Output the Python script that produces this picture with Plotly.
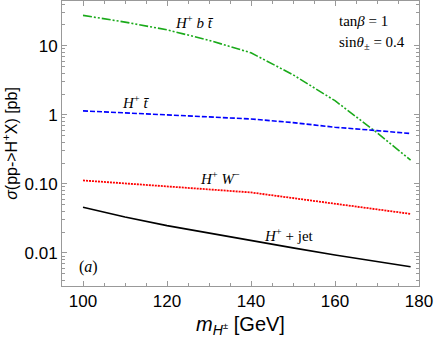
import plotly.graph_objects as go

# masas del Higgs cargado (GeV)
masas = [100, 110, 120, 130, 140, 150, 160, 170, 178]

# secciones eficaces (pb)
sigma_hbt = [27.5, 22.0, 17.0, 12.0, 7.9, 3.8, 1.6, 0.55, 0.22]
sigma_ht = [1.14, 1.07, 0.99, 0.93, 0.87, 0.77, 0.66, 0.59, 0.535]
sigma_hw = [0.112, 0.102, 0.092, 0.083, 0.075, 0.062, 0.052, 0.043, 0.0367]
sigma_hjet = [0.0458, 0.0330, 0.0248, 0.0192, 0.0151, 0.0118, 0.0093, 0.0074, 0.0063]

ytick_vals = [0.01, 0.1, 1, 10]
ytick_text = ['0.01', '0.10', '1', '10']

fig = go.Figure()

fig.add_trace(go.Scatter(x=masas, y=sigma_hbt, mode='lines',
                         line=dict(color='#1aaa1a', width=1.6, dash='9px,2px,2px,2px,2px,2px')))
fig.add_trace(go.Scatter(x=masas, y=sigma_ht, mode='lines',
                         line=dict(color='#0000ff', width=1.6, dash='5px,2px')))
fig.add_trace(go.Scatter(x=masas, y=sigma_hw, mode='lines',
                         line=dict(color='#ff0000', width=1.8, dash='2px,1px')))
fig.add_trace(go.Scatter(x=masas, y=sigma_hjet, mode='lines',
                         line=dict(color='black', width=1.6)))

serif = dict(family='Liberation Serif', size=15, color='black')

# etiquetas de las curvas
fig.add_annotation(x=126.5, y=1.35, xref='x', yref='y', text='<i>H</i><sup>+</sup> <i>b</i> <i>t̄</i>',
                   showarrow=False, font=serif)
fig.add_annotation(x=112.4, y=0.19, xref='x', yref='y', text='<i>H</i><sup>+</sup> <i>t̄</i>',
                   showarrow=False, font=serif)
fig.add_annotation(x=132.5, y=-0.91, xref='x', yref='y', text='<i>H</i><sup>+</sup> <i>W</i><sup>−</sup>',
                   showarrow=False, font=serif)
fig.add_annotation(x=149, y=-1.74, xref='x', yref='y', text='<i>H</i><sup>+</sup> + jet',
                   showarrow=False, font=serif)
fig.add_annotation(x=101.4, y=-2.21, xref='x', yref='y', text='(<i>a</i>)',
                   showarrow=False, font=dict(family='Liberation Serif', size=16, color='black'))
fig.add_annotation(x=0.77, y=1.36, xref='paper', yref='y', xanchor='left', text='tan<i>β</i> = 1',
                   showarrow=False, font=serif)
fig.add_annotation(x=0.77, y=1.04, xref='paper', yref='y', xanchor='left', text='sin<i>θ</i><sub>±</sub> = 0.4',
                   showarrow=False, font=serif)

fig.update_layout(
    width=436, height=338,
    margin=dict(l=62, r=17, t=1, b=52),
    plot_bgcolor='white', paper_bgcolor='white',
    showlegend=False,
    font=dict(family='Liberation Sans', size=17, color='black'),
)

fig.update_xaxes(
    range=[95, 180], showgrid=False, zeroline=False, automargin=False,
    showline=True, linecolor='#999999', mirror='ticks', linewidth=1,
    ticks='inside', ticklen=5, tickcolor='#999999', tickvals=[100, 120, 140, 160, 180],
    minor=dict(ticks='inside', ticklen=3, tickcolor='#999999', dtick=5),
    title=dict(text='<i>m</i><sub><i>H</i><sup>±</sup></sub> [GeV]', standoff=6),
)

fig.update_yaxes(
    type='log', range=[-2.48, 1.648], showgrid=False, zeroline=False, automargin=False,
    showline=True, linecolor='#999999', mirror='ticks', linewidth=1,
    ticks='inside', ticklen=5, tickcolor='#999999',
    tickvals=ytick_vals, ticktext=ytick_text,
    minor=dict(ticks='inside', ticklen=3, tickcolor='#999999', dtick='D1'),
    title=dict(text='<i>σ</i>(pp->H<sup>+</sup>X) [pb]', standoff=4, font=dict(size=16)),
)

# quitar el margen por defecto del body
fig.write_html('out.html', config={'displayModeBar': False},
               post_script="document.body.style.margin='0';")
